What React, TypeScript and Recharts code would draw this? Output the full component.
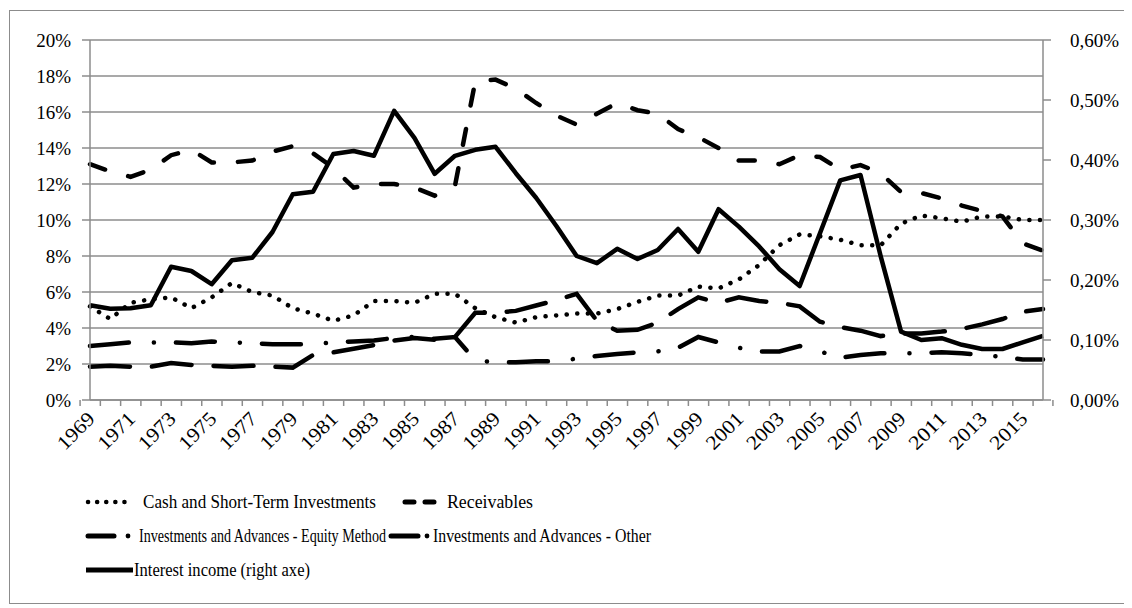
import React from "react";
import { LineChart, Line, XAxis, YAxis, CartesianGrid } from "recharts";

const years = [
  "1969", "1970", "1971", "1972", "1973", "1974", "1975", "1976", "1977", "1978",
  "1979", "1980", "1981", "1982", "1983", "1984", "1985", "1986", "1987", "1988",
  "1989", "1990", "1991", "1992", "1993", "1994", "1995", "1996", "1997", "1998",
  "1999", "2000", "2001", "2002", "2003", "2004", "2005", "2006", "2007", "2008",
  "2009", "2010", "2011", "2012", "2013", "2014", "2015", "2016",
];

// left axis, % of assets
const cash = [
  5.2, 4.5, 5.4, 5.6, 5.7, 5.1, 5.7, 6.5, 6.0, 5.8,
  5.1, 4.8, 4.4, 4.7, 5.5, 5.5, 5.4, 5.9, 5.9, 5.1,
  4.6, 4.3, 4.6, 4.7, 4.8, 4.8, 5.05, 5.45, 5.8, 5.8,
  6.3, 6.2, 6.7, 7.5, 8.6, 9.2, 9.1, 8.9, 8.6, 8.6,
  9.8, 10.25, 10.1, 9.9, 10.2, 10.2, 10.0, 10.0,
];
const receivables = [
  13.1, 12.7, 12.4, 12.8, 13.6, 13.9, 13.2, 13.2, 13.3, 13.8,
  14.1, 13.7, 12.9, 11.8, 12.0, 12.0, 11.8, 11.35, 11.9, 17.7,
  17.8, 17.3, 16.5, 15.8, 15.3, 15.9, 16.5, 16.1, 15.9, 15.05,
  14.6, 14.0, 13.3, 13.3, 13.1, 13.6, 13.5, 12.8, 13.05, 12.6,
  11.55, 11.5, 11.2, 10.8, 10.5, 10.2, 8.7, 8.3,
];
const equityMethod = [
  3.0, 3.1, 3.2, 3.2, 3.2, 3.15, 3.25, 3.2, 3.15, 3.1,
  3.1, 3.1, 3.2, 3.25, 3.3, 3.45, 3.5, 3.4, 3.5, 2.2,
  2.1, 2.1, 2.15, 2.15, 2.3, 2.45, 2.55, 2.65, 2.7, 2.9,
  3.5, 3.2, 2.9, 2.7, 2.7, 3.0, 2.7, 2.35, 2.5, 2.6,
  2.6, 2.6, 2.65, 2.6, 2.5, 2.4, 2.25, 2.25,
];
const otherInv = [
  1.85, 1.9, 1.85, 1.85, 2.05, 1.95, 1.9, 1.85, 1.9, 1.85,
  1.8, 2.5, 2.65, 2.85, 3.05, 3.3, 3.45, 3.35, 3.5, 4.85,
  4.85, 4.95, 5.25, 5.55, 5.9, 4.4, 3.85, 3.9, 4.3, 5.05,
  5.7, 5.4, 5.7, 5.5, 5.4, 5.2, 4.35, 4.05, 3.85, 3.55,
  3.7, 3.7, 3.8, 3.95, 4.2, 4.5, 4.9, 5.05,
];
// right axis
const interest = [
  0.158, 0.152, 0.153, 0.158, 0.222, 0.215, 0.193, 0.233, 0.237, 0.28,
  0.343, 0.347, 0.41, 0.415, 0.407, 0.482, 0.437, 0.377, 0.407, 0.417,
  0.422, 0.378, 0.337, 0.29, 0.24, 0.228, 0.252, 0.235, 0.25, 0.285,
  0.247, 0.318, 0.289, 0.256, 0.218, 0.19, 0.278, 0.366, 0.375, 0.239,
  0.114, 0.1, 0.103, 0.092, 0.085, 0.085, 0.096, 0.107,
];

const leftTicks = [0, 2, 4, 6, 8, 10, 12, 14, 16, 18, 20];
const rightTicks = [0, 0.1, 0.2, 0.3, 0.4, 0.5, 0.6];

const data = years.map((year, i) => ({
  year,
  cash: cash[i],
  receivables: receivables[i],
  equityMethod: equityMethod[i],
  otherInv: otherInv[i],
  interest: interest[i],
}));

const W = 1124;
const H = 480;
const LEFT_W = 82;
const RIGHT_W = 89;
const PLOT_W = W - LEFT_W - RIGHT_W;
const FONT = '"Liberation Serif", "DejaVu Serif", Times, serif';
const GRID = "#8c8c8c";

const YearTick = (props: any) => {
  const { x, y, payload, index } = props;
  const bw = PLOT_W / years.length;
  const last = index === years.length - 1;
  return (
    <g>
      <line x1={x - bw / 2} x2={x - bw / 2} y1={y} y2={y + 6} stroke={GRID} strokeWidth={1.5} />
      {last && <line x1={x + bw / 2} x2={x + bw / 2} y1={y} y2={y + 6} stroke={GRID} strokeWidth={1.5} />}
      {index % 2 === 0 && (
        <text
          x={x + 6}
          y={y + 20}
          transform={`rotate(-45, ${x + 6}, ${y + 20})`}
          textAnchor="end"
          textLength={44}
          lengthAdjust="spacingAndGlyphs"
          style={{ fontSize: 20, fontFamily: FONT, fill: "#000" }}
        >
          {payload.value}
        </text>
      )}
    </g>
  );
};

const LegendText = ({ x, y, w, children }: { x: number; y: number; w: number; children: string }) => (
  <text
    x={x}
    y={y}
    textLength={w}
    lengthAdjust="spacingAndGlyphs"
    style={{ fontSize: 18, fontFamily: FONT, fill: "#000" }}
  >
    {children}
  </text>
);

const Legend = () => (
  <svg width={W} height={600} style={{ position: "absolute", left: 0, top: 0, pointerEvents: "none" }}>
    <line x1={80} x2={125} y1={494} y2={494} stroke="#000" strokeWidth={4.5} strokeLinecap="round" strokeDasharray="0.1 9" />
    <LegendText x={135} y={500} w={233}>Cash and Short-Term Investments</LegendText>
    <line x1={397} x2={430} y1={494} y2={494} stroke="#000" strokeWidth={5} strokeLinecap="round" strokeDasharray="9 11" />
    <LegendText x={439} y={500} w={86}>Receivables</LegendText>

    <line x1={80} x2={106} y1={528} y2={528} stroke="#000" strokeWidth={5} strokeLinecap="round" />
    <circle cx={120} cy={528} r={2.4} fill="#000" />
    <LegendText x={131} y={534} w={247}>Investments and Advances - Equity Method</LegendText>
    <line x1={383} x2={410} y1={528} y2={528} stroke="#000" strokeWidth={5} strokeLinecap="round" />
    <circle cx={419} cy={528} r={2.4} fill="#000" />
    <LegendText x={425} y={534} w={218}>Investments and Advances - Other</LegendText>

    <line x1={78} x2={125} y1={562} y2={562} stroke="#000" strokeWidth={5} />
    <LegendText x={126} y={568} w={176}>Interest income (right axe)</LegendText>
  </svg>
);

export default function App() {
  return (
    <div style={{ position: "relative", width: W, height: 600, background: "#fff", fontFamily: FONT }}>
      <div
        style={{
          position: "absolute",
          left: 1,
          top: 2,
          width: 1118,
          height: 592,
          border: `1.5px solid ${GRID}`,
        }}
      />
      <LineChart width={W} height={H} data={data} margin={{ top: 32, right: 0, left: 0, bottom: 0 }}>
        <CartesianGrid yAxisId="left" vertical={false} stroke={GRID} strokeWidth={1.5} />
        <XAxis
          dataKey="year"
          interval={0}
          height={88}
          tickSize={0}
          tickMargin={0}
          tickLine={false}
          stroke={GRID}
          strokeWidth={1.5}
          tick={<YearTick />}
        />
        <YAxis
          yAxisId="left"
          width={LEFT_W}
          domain={[0, 20]}
          ticks={leftTicks}
          interval={0}
          tickFormatter={(v: number) => `${v}%`}
          stroke={GRID}
          strokeWidth={1.5}
          tickSize={8}
          tickMargin={11}
          tick={{ fill: "#000", fontSize: 19, style: { fontFamily: FONT } }}
        />
        <YAxis
          yAxisId="right"
          orientation="right"
          width={RIGHT_W}
          domain={[0, 0.6]}
          ticks={rightTicks}
          interval={0}
          tickFormatter={(v: number) => `${v.toFixed(2).replace(".", ",")}%`}
          stroke={GRID}
          strokeWidth={1.5}
          tickSize={8}
          tickMargin={19}
          tick={{ fill: "#000", fontSize: 19, style: { fontFamily: FONT } }}
        />
        <Line yAxisId="left" dataKey="cash" stroke="#000" strokeWidth={4.5} strokeLinecap="round" strokeDasharray="0.1 10.5" dot={false} isAnimationActive={false} />
        <Line yAxisId="left" dataKey="receivables" stroke="#000" strokeWidth={4.5} strokeLinecap="round" strokeDasharray="16 24" dot={false} isAnimationActive={false} />
        <Line yAxisId="left" dataKey="equityMethod" stroke="#000" strokeWidth={4.5} strokeLinecap="round" strokeDasharray="39 25 0.1 22" dot={false} isAnimationActive={false} />
        <Line yAxisId="left" dataKey="otherInv" stroke="#000" strokeWidth={4.5} strokeLinecap="round" strokeDasharray="40 22" dot={false} isAnimationActive={false} />
        <Line yAxisId="right" dataKey="interest" stroke="#000" strokeWidth={4.5} strokeLinejoin="round" dot={false} isAnimationActive={false} />
      </LineChart>
      <Legend />
    </div>
  );
}
